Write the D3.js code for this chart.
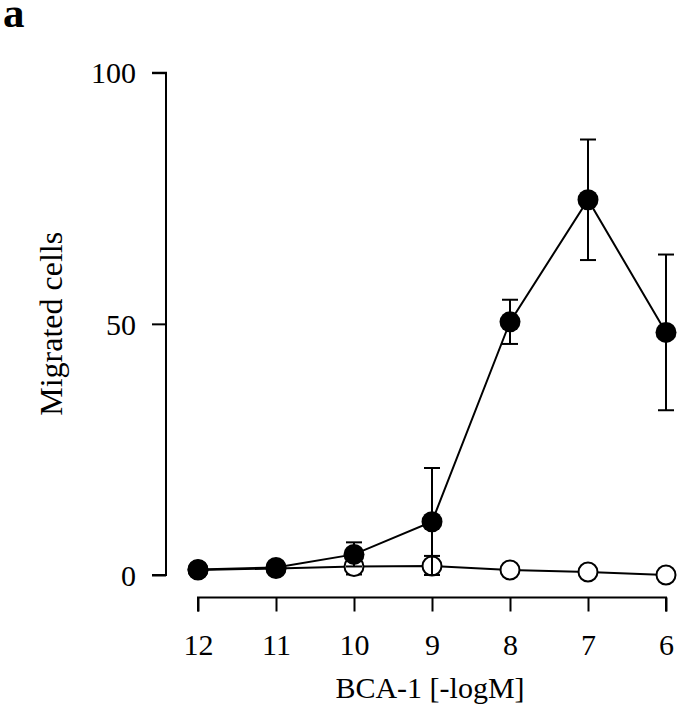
<!DOCTYPE html>
<html>
<head>
<meta charset="utf-8">
<script src="https://cdn.jsdelivr.net/npm/d3@7"></script>
<style>
  html, body { margin: 0; padding: 0; background: #fff; }
  svg { display: block; }
  text { font-family: "Liberation Serif", "Times New Roman", serif; fill: #000; }
</style>
</head>
<body>
<script>
// Data
const doses = [12, 11, 10, 9, 8, 7, 6];            // BCA-1 [-logM]
const filledMean = [1.1, 1.5, 4.1, 10.6, 50.4, 74.7, 48.3];
const filledErr  = [0, 0, 2.4, 10.7, 4.4, 12.0, 15.5];
const openMean   = [1.0, 1.3, 1.7, 1.8, 1.0, 0.6, 0.0];
const openErr    = [0, 0, 1.6, 2.0, 0, 0, 0];
const yTicks = [0, 50, 100];
const xLabel = "BCA-1 [-logM]";
const yLabel = "Migrated cells";
const panelLabel = "a";

const W = 679, H = 719;
const svg = d3.select("body").append("svg").attr("width", W).attr("height", H);

const x = d3.scaleLinear().domain([12, 6]).range([198, 666]);
const y = d3.scaleLinear().domain([0, 100]).range([575, 72.7]);

// Panel label
svg.append("text").attr("x", 3).attr("y", 27)
  .style("font-size", "43px").style("font-weight", "bold").text(panelLabel);

// Y axis
const yAxis = d3.axisLeft(y).tickValues(yTicks).tickSize(14).tickPadding(16).tickFormat(d3.format("d"));
const gy = svg.append("g").attr("transform", "translate(166,0)").call(yAxis);
gy.select(".domain").attr("d", `M-14,${y(100)}H0V${y(0)}H-14`).attr("stroke", "#000").attr("stroke-width", 2).attr("fill", "none");
gy.selectAll(".tick line").attr("stroke", "#000").attr("stroke-width", 2);
gy.selectAll(".tick text").style("font-size", "30px").attr("dy", "0.34em");

// X axis
const xAxis = d3.axisBottom(x).tickValues(doses).tickSize(14).tickPadding(22).tickFormat(d3.format("d"));
const gx = svg.append("g").attr("transform", "translate(0,597.5)").call(xAxis);
gx.select(".domain").attr("d", `M${x(12)},14V0H${x(6)}V14`).attr("stroke", "#000").attr("stroke-width", 2).attr("fill", "none");
gx.selectAll(".tick line").attr("stroke", "#000").attr("stroke-width", 2);
gx.selectAll(".tick text").style("font-size", "30px").attr("dy", "0.71em");

// Axis titles
svg.append("text").attr("x", 430).attr("y", 698)
  .attr("text-anchor", "middle").style("font-size", "30px").text(xLabel);
svg.append("text").attr("transform", `translate(62,${y(50)}) rotate(-90)`)
  .attr("text-anchor", "middle").style("font-size", "32px").text(yLabel);

const line = d3.line().x(d => x(d.x)).y(d => y(d.y));
const filled = doses.map((d, i) => ({x: d, y: filledMean[i], e: filledErr[i]}));
const open = doses.map((d, i) => ({x: d, y: openMean[i], e: openErr[i]}));

function drawErr(data) {
  const g = svg.append("g").attr("stroke", "#000").attr("stroke-width", 2).attr("fill", "none");
  data.filter(d => d.e > 0).forEach(d => {
    const cx = x(d.x), t = y(d.y + d.e), b = y(Math.max(0, d.y - d.e));
    g.append("line").attr("x1", cx).attr("x2", cx).attr("y1", t).attr("y2", b);
    g.append("line").attr("x1", cx - 8).attr("x2", cx + 8).attr("y1", t).attr("y2", t);
    g.append("line").attr("x1", cx - 8).attr("x2", cx + 8).attr("y1", b).attr("y2", b);
  });
}

// Open series
drawErr(open);
svg.append("path").datum(open).attr("d", line).attr("fill", "none").attr("stroke", "#000").attr("stroke-width", 2);
svg.selectAll(".open").data(open).enter().append("circle")
  .attr("cx", d => x(d.x)).attr("cy", d => y(d.y)).attr("r", 9.5)
  .attr("fill", "#fff").attr("stroke", "#000").attr("stroke-width", 2);

// Filled series
drawErr(filled);
svg.append("path").datum(filled).attr("d", line).attr("fill", "none").attr("stroke", "#000").attr("stroke-width", 2);
svg.selectAll(".filled").data(filled).enter().append("circle")
  .attr("cx", d => x(d.x)).attr("cy", d => y(d.y)).attr("r", 10.5)
  .attr("fill", "#000");
</script>
</body>
</html>
